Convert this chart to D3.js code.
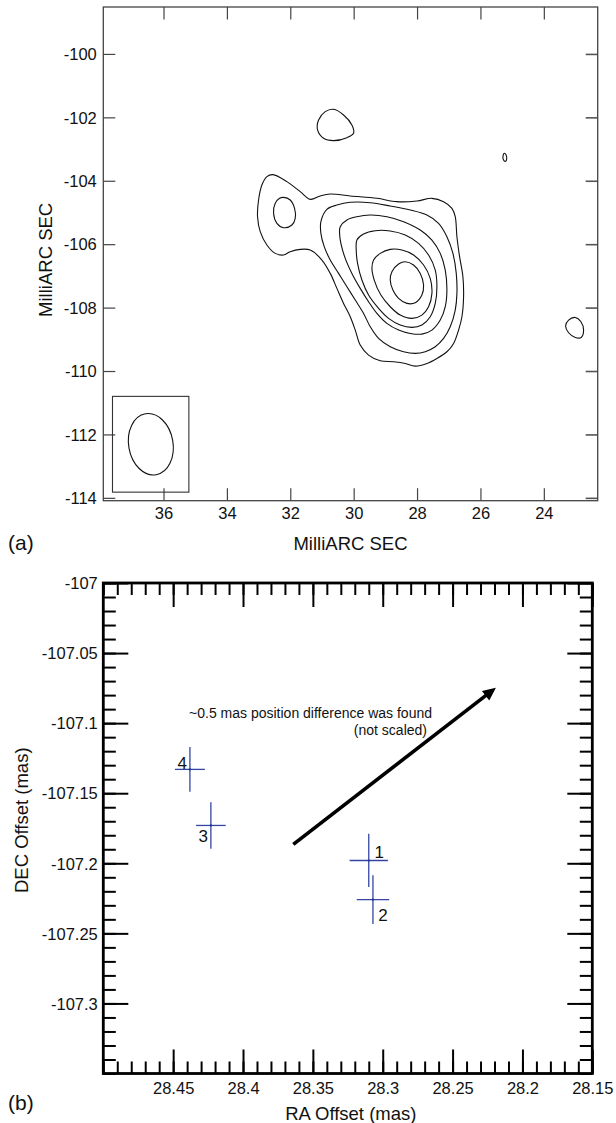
<!DOCTYPE html>
<html><head><meta charset="utf-8">
<script src="https://cdn.jsdelivr.net/npm/d3@7"></script>
<style>
body{margin:0;background:#fff}
svg{display:block}
text{font-family:"Liberation Sans",Arial,Helvetica,sans-serif;fill:#111}
</style>
</head><body>
<svg id="c" width="616" height="1123"></svg>
<script>
// ---------------- Panel (a): contour map ----------------
const aXTicks = [36, 34, 32, 30, 28, 26, 24];
const aXLabels = ["36", "34", "32", "30", "28", "26", "24"];
const aYTicks = [-100, -102, -104, -106, -108, -110, -112, -114];
const aYLabels = ["-100", "-102", "-104", "-106", "-108", "-110", "-112", "-114"];

const contourOuter = [[32.549,-103.807],[32.107,-104.028],[31.686,-104.344],[31.371,-104.586],[31.055,-104.481],[30.739,-104.417],[30.108,-104.481],[29.267,-104.554],[28.636,-104.659],[28.004,-104.638],[27.531,-104.554],[27.163,-104.659],[26.900,-104.870],[26.795,-105.133],[26.742,-105.764],[26.658,-106.395],[26.553,-107.026],[26.532,-107.657],[26.584,-108.288],[26.690,-108.709],[26.847,-109.130],[27.058,-109.393],[27.373,-109.603],[27.689,-109.761],[28.057,-109.845],[28.373,-109.761],[28.741,-109.708],[29.161,-109.677],[29.530,-109.498],[29.793,-109.183],[29.950,-108.709],[30.108,-108.288],[30.319,-107.868],[30.529,-107.394],[30.739,-106.921],[31.002,-106.500],[31.371,-106.185],[31.686,-106.164],[32.002,-106.237],[32.212,-106.342],[32.475,-106.290],[32.738,-106.027],[32.948,-105.606],[33.033,-105.133],[33.001,-104.607],[32.896,-104.133],[32.738,-103.870]];
const contourLevel2 = [[30.845,-104.901],[30.529,-104.765],[30.108,-104.680],[29.477,-104.691],[28.846,-104.796],[28.215,-104.922],[27.689,-105.080],[27.321,-105.343],[27.058,-105.764],[26.868,-106.290],[26.763,-106.921],[26.742,-107.552],[26.795,-108.078],[26.953,-108.604],[27.163,-108.972],[27.426,-109.235],[27.742,-109.393],[28.057,-109.445],[28.425,-109.393],[28.846,-109.235],[29.214,-108.972],[29.477,-108.604],[29.687,-108.183],[29.950,-107.762],[30.213,-107.342],[30.476,-106.921],[30.739,-106.500],[30.929,-106.079],[31.034,-105.659],[31.034,-105.290]];
const contourLevel3 = [[30.424,-105.448],[30.213,-105.238],[29.898,-105.133],[29.477,-105.080],[28.951,-105.133],[28.425,-105.290],[27.899,-105.553],[27.531,-105.869],[27.268,-106.290],[27.110,-106.816],[27.058,-107.447],[27.110,-107.973],[27.268,-108.394],[27.531,-108.709],[27.847,-108.836],[28.215,-108.815],[28.583,-108.709],[28.951,-108.499],[29.267,-108.183],[29.530,-107.815],[29.793,-107.394],[30.056,-106.921],[30.266,-106.448],[30.403,-105.974],[30.445,-105.659]];
const contourLevel4 = [[29.898,-105.869],[29.688,-105.680],[29.319,-105.574],[28.846,-105.585],[28.373,-105.711],[27.952,-105.974],[27.636,-106.342],[27.426,-106.816],[27.373,-107.342],[27.426,-107.868],[27.584,-108.288],[27.847,-108.551],[28.162,-108.625],[28.530,-108.551],[28.898,-108.341],[29.214,-108.025],[29.530,-107.605],[29.740,-107.131],[29.877,-106.606],[29.919,-106.185]];
const contourLevel5 = [[29.372,-106.500],[29.161,-106.290],[28.846,-106.164],[28.478,-106.185],[28.110,-106.342],[27.794,-106.658],[27.584,-107.079],[27.531,-107.552],[27.636,-107.973],[27.847,-108.236],[28.162,-108.341],[28.530,-108.236],[28.846,-107.973],[29.141,-107.605],[29.351,-107.131],[29.424,-106.763]];
const contourLevel6 = [[28.793,-106.868],[28.583,-106.626],[28.373,-106.553],[28.110,-106.658],[27.899,-106.921],[27.794,-107.289],[27.847,-107.605],[28.057,-107.847],[28.320,-107.868],[28.583,-107.710],[28.762,-107.447],[28.846,-107.131]];
const contourLobe = [[32.212,-104.523],[32.002,-104.607],[31.865,-104.870],[31.844,-105.185],[31.949,-105.396],[32.212,-105.480],[32.422,-105.343],[32.528,-105.027],[32.475,-104.712],[32.338,-104.554]];
const contourNorth = [[30.634,-101.746],[30.319,-101.925],[30.056,-102.241],[30.003,-102.504],[30.213,-102.640],[30.634,-102.735],[30.950,-102.661],[31.139,-102.398],[31.107,-102.083],[30.897,-101.820]];
const contourTiny = [[25.250,-103.135],[25.190,-103.190],[25.175,-103.330],[25.217,-103.390],[25.275,-103.335],[25.285,-103.200]];
const contourEast = [[23.008,-108.310],[22.829,-108.447],[22.745,-108.710],[22.819,-108.941],[23.008,-108.941],[23.218,-108.794],[23.313,-108.584],[23.218,-108.394]];
const contours = [contourOuter, contourLevel2, contourLevel3, contourLevel4, contourLevel5, contourLevel6, contourLobe, contourNorth, contourTiny, contourEast];

// restoring beam: [centre RA, centre DEC, major FWHM, minor FWHM, PA deg]
const beamParams = [36.40, -112.31, 1.95, 1.40, 10];
const beamBox = [37.61, 35.20, -110.80, -113.82];

// ---------------- Panel (b): positions ----------------
const bLabels = ["1", "2", "3", "4"];
const bRA = [28.310, 28.307, 28.423, 28.438];
const bDEC = [-107.198, -107.226, -107.173, -107.133];
const bRAerr = [0.0137, 0.0116, 0.0106, 0.0107];
const bDECerr = [0.0190, 0.0174, 0.0166, 0.0160];
const arrowStart = [28.364, -107.1865];
const arrowEnd = [28.219, -107.0747];
const bXTicks = [28.45, 28.4, 28.35, 28.3, 28.25, 28.2, 28.15];
const bXLabels = ["28.45", "28.4", "28.35", "28.3", "28.25", "28.2", "28.15"];
const bYTicks = [-107, -107.05, -107.1, -107.15, -107.2, -107.25, -107.3];
const bYLabels = ["-107", "-107.05", "-107.1", "-107.15", "-107.2", "-107.25", "-107.3"];
const noteLines = ["~0.5 mas position difference was found", "(not scaled)"];

// ---------------- drawing ----------------
const svg = d3.select("#c");
const FONT_TICK = 16.5, FONT_TITLE = 18.5;

// Panel (a)
const aL = 103.3, aR = 597.7, aT = 7, aB = 500.7;
const xa = d3.scaleLinear().domain([37.9, 22.3]).range([aL, aR]);
const ya = d3.scaleLinear().domain([-98.52, -114.09]).range([aT, aB]);
const gA = svg.append("g");

function styleAxis(g, color, width) {
  g.select(".domain").remove();
  g.selectAll(".tick line").attr("stroke", color).attr("stroke-width", width);
  g.selectAll(".tick text").attr("font-size", FONT_TICK).attr("fill", "#111")
    .attr("font-family", '"Liberation Sans",Arial,sans-serif');
}
// bottom
const axB = gA.append("g").attr("transform", `translate(0,${aB})`)
  .call(d3.axisBottom(xa).tickValues(aXTicks).tickSize(-12.5).tickFormat((d, i) => aXLabels[i]));
styleAxis(axB, "#444", 1.2);
axB.selectAll(".tick text").attr("y", 12.6).attr("dy", "0.35em");
// top
const axT = gA.append("g").attr("transform", `translate(0,${aT})`)
  .call(d3.axisTop(xa).tickValues(aXTicks).tickSize(-12.5).tickFormat(""));
styleAxis(axT, "#444", 1.2);
// left
const axLf = gA.append("g").attr("transform", `translate(${aL},0)`)
  .call(d3.axisLeft(ya).tickValues(aYTicks).tickSize(-12).tickFormat((d, i) => aYLabels[i]));
styleAxis(axLf, "#444", 1.2);
axLf.selectAll(".tick text").attr("x", -6.5).attr("dy", "0.35em");
// right
const axRt = gA.append("g").attr("transform", `translate(${aR},0)`)
  .call(d3.axisRight(ya).tickValues(aYTicks).tickSize(-12).tickFormat(""));
styleAxis(axRt, "#555", 1.6);
// frame
gA.append("rect").attr("x", aL).attr("y", aT).attr("width", aR - aL).attr("height", aB - aT)
  .attr("fill", "none").attr("stroke", "#444").attr("stroke-width", 1.3);

// contours
const cLine = d3.line().x(d => xa(d[0])).y(d => ya(d[1])).curve(d3.curveCatmullRomClosed.alpha(0.5));
gA.append("g").selectAll("path").data(contours).join("path")
  .attr("d", cLine).attr("fill", "none").attr("stroke", "#111").attr("stroke-width", 1.1);

// beam box + ellipse
gA.append("rect")
  .attr("x", xa(beamBox[0])).attr("y", ya(beamBox[2]))
  .attr("width", xa(beamBox[1]) - xa(beamBox[0])).attr("height", ya(beamBox[3]) - ya(beamBox[2]))
  .attr("fill", "none").attr("stroke", "#333").attr("stroke-width", 1.1);
const bcx = xa(beamParams[0]), bcy = ya(beamParams[1]);
gA.append("ellipse").attr("cx", bcx).attr("cy", bcy)
  .attr("rx", Math.abs(xa(beamParams[0] - beamParams[3] / 2) - bcx))
  .attr("ry", Math.abs(ya(beamParams[1] + beamParams[2] / 2) - bcy))
  .attr("transform", `rotate(${-beamParams[4]},${bcx},${bcy})`)
  .attr("fill", "none").attr("stroke", "#111").attr("stroke-width", 1.1);

// titles (a)
svg.append("text").attr("x", (aL + aR) / 2).attr("y", 544).attr("dy", "0.35em")
  .attr("text-anchor", "middle").attr("font-size", FONT_TITLE).text("MilliARC SEC");
svg.append("text").attr("transform", `translate(46,${(aT + aB) / 2 + 6}) rotate(-90)`).attr("dy", "0.35em")
  .attr("text-anchor", "middle").attr("font-size", FONT_TITLE).text("MilliARC SEC");
svg.append("text").attr("x", 8).attr("y", 543).attr("dy", "0.35em")
  .attr("font-size", 21).text("(a)");

// Panel (b)
const bL = 103.3, bR = 592.3, bT = 583, bB = 1073.5;
const xb = d3.scaleLinear().domain([28.5, 28.15]).range([bL, bR]);
const yb = d3.scaleLinear().domain([-107, -107.35]).range([bT, bB]);
const gB = svg.append("g");
const xMinor = d3.range(0, 36).map(i => +(28.5 - i * 0.01).toFixed(2));
const yMinor = d3.range(0, 36).map(i => +(-107 - i * 0.01).toFixed(2));

function bAxis(axisFn, scale, pos, vals, size, fmt, horiz) {
  const g = gB.append("g").attr("transform", horiz ? `translate(0,${pos})` : `translate(${pos},0)`)
    .call(axisFn(scale).tickValues(vals).tickSize(size).tickFormat(fmt));
  g.select(".domain").remove();
  g.selectAll(".tick line").attr("stroke", "#000").attr("stroke-width", 2);
  g.selectAll(".tick text").attr("font-size", FONT_TICK).attr("fill", "#111")
    .attr("font-family", '"Liberation Sans",Arial,sans-serif');
  return g;
}
bAxis(d3.axisBottom, xb, bB, xMinor, -12, "", true);
bAxis(d3.axisTop, xb, bT, xMinor, -12, "", true);
bAxis(d3.axisLeft, yb, bL, yMinor, -12.5, "", false);
bAxis(d3.axisRight, yb, bR, yMinor, -12.5, "", false);
const bxAx = bAxis(d3.axisBottom, xb, bB, bXTicks, -24, (d, i) => bXLabels[i], true);
bxAx.selectAll(".tick text").attr("y", 15).attr("dy", "0.35em");
bAxis(d3.axisTop, xb, bT, bXTicks, -24, "", true);
const byAx = bAxis(d3.axisLeft, yb, bL, bYTicks, -25, (d, i) => bYLabels[i], false);
byAx.selectAll(".tick text").attr("x", -5.5).attr("dy", "0.35em");
bAxis(d3.axisRight, yb, bR, bYTicks, -25, "", false);
gB.append("rect").attr("x", bL).attr("y", bT).attr("width", bR - bL).attr("height", bB - bT)
  .attr("fill", "none").attr("stroke", "#000").attr("stroke-width", 2.8);

// error crosses
const blue = "#3446a3";
const pts = bLabels.map((l, i) => ({ l, x: bRA[i], y: bDEC[i], ex: bRAerr[i], ey: bDECerr[i] }));
const gp = gB.append("g");
gp.selectAll("line.h").data(pts).join("line").attr("class", "h")
  .attr("x1", d => xb(d.x + d.ex)).attr("x2", d => xb(d.x - d.ex))
  .attr("y1", d => yb(d.y)).attr("y2", d => yb(d.y))
  .attr("stroke", blue).attr("stroke-width", 1.3);
gp.selectAll("line.v").data(pts).join("line").attr("class", "v")
  .attr("x1", d => xb(d.x)).attr("x2", d => xb(d.x))
  .attr("y1", d => yb(d.y + d.ey)).attr("y2", d => yb(d.y - d.ey))
  .attr("stroke", blue).attr("stroke-width", 1.3);
gp.selectAll("circle").data(pts).join("circle")
  .attr("cx", d => xb(d.x)).attr("cy", d => yb(d.y)).attr("r", 1.1).attr("fill", "#223388");
const labelOffsets = [[10.4, -8], [10, 15.7], [-7.7, 10.7], [-7.7, -6]];
gp.selectAll("text").data(pts).join("text")
  .attr("x", (d, i) => xb(d.x) + labelOffsets[i][0])
  .attr("y", (d, i) => yb(d.y) + labelOffsets[i][1])
  .attr("dy", "0.35em").attr("text-anchor", "middle").attr("font-size", 17).text(d => d.l);

// arrow
const ax0 = xb(arrowStart[0]), ay0 = yb(arrowStart[1]);
const ax1 = xb(arrowEnd[0]), ay1 = yb(arrowEnd[1]);
const ang = Math.atan2(ay1 - ay0, ax1 - ax0);
const headLen = 13, headW = 6;
const bx = ax1 - headLen * Math.cos(ang), by = ay1 - headLen * Math.sin(ang);
gB.append("line").attr("x1", ax0).attr("y1", ay0)
  .attr("x2", ax1 - 8 * Math.cos(ang)).attr("y2", ay1 - 8 * Math.sin(ang))
  .attr("stroke", "#000").attr("stroke-width", 3.6);
gB.append("path").attr("d", `M${ax1},${ay1} L${bx + headW * Math.sin(ang)},${by - headW * Math.cos(ang)} L${bx - headW * Math.sin(ang)},${by + headW * Math.cos(ang)} Z`)
  .attr("fill", "#000");

// note
gB.append("text").attr("x", 432).attr("y", 713.5).attr("dy", "0.35em").attr("text-anchor", "end")
  .attr("font-size", 14).text(noteLines[0]);
gB.append("text").attr("x", 427).attr("y", 730.5).attr("dy", "0.35em").attr("text-anchor", "end")
  .attr("font-size", 14).text(noteLines[1]);

// titles (b)
svg.append("text").attr("x", (bL + bR) / 2 + 3).attr("y", 1114).attr("dy", "0.35em")
  .attr("text-anchor", "middle").attr("font-size", FONT_TITLE).text("RA Offset (mas)");
svg.append("text").attr("transform", `translate(22,${(bT + bB) / 2 - 8}) rotate(-90)`).attr("dy", "0.35em")
  .attr("text-anchor", "middle").attr("font-size", FONT_TITLE).text("DEC Offset (mas)");
svg.append("text").attr("x", 8).attr("y", 1103).attr("dy", "0.35em")
  .attr("font-size", 21).text("(b)");
</script>
</body></html>
